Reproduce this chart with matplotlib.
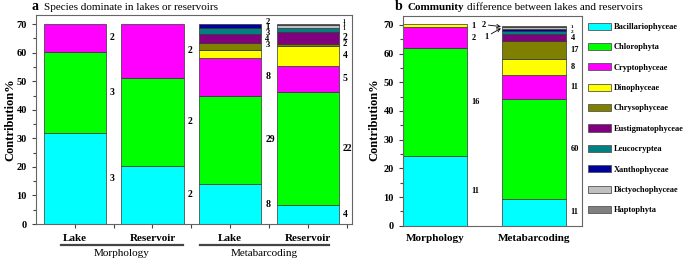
import numpy as np
import matplotlib.pyplot as plt
import matplotlib.transforms as mtransforms
from matplotlib.patches import Patch

plt.rcParams['font.family'] = ['Liberation Serif', 'DejaVu Serif']

# taxa in stacking order (bottom -> top)
taxa = ['Bacillariophyceae', 'Chlorophyta', 'Cryptophyceae', 'Dinophyceae',
        'Chrysophyceae', 'Eustigmatophyceae', 'Leucocryptea', 'Xanthophyceae',
        'Dictyochophyceae', 'Haptophyta']
colors = ['#00FFFF', '#00FF00', '#FF00FF', '#FFFF00', '#808000',
          '#800080', '#008080', '#00009C', '#C0C0C0', '#808080']

# panel a: Lake / Reservoir for morphology and metabarcoding (contribution %)
bars_a = ['Lake', 'Reservoir', 'Lake', 'Reservoir']
bac_a = [32.0, 20.4, 14.0, 6.5]
chl_a = [28.3, 30.8, 30.9, 39.8]
cry_a = [9.7, 18.8, 13.4, 9.2]
dino_a = [0, 0, 2.8, 6.8]
chrys_a = [0, 0, 2.4, 0.9]
eust_a = [0, 0, 2.9, 4.1]
leuco_a = [0, 0, 2.1, 1.4]
xan_a = [0, 0, 1.7, 0]
dict_a = [0, 0, 0, 0.9]
hapt_a = [0, 0, 0, 0.6]
vals_a = [bac_a, chl_a, cry_a, dino_a, chrys_a, eust_a, leuco_a, xan_a, dict_a, hapt_a]

# number of species per taxon (labels beside segments)
n_a = [[3, 2, 8, 4], [3, 2, 29, 22], [2, 2, 8, 5], [0, 0, 3, 4], [0, 0, 4, 2],
       [0, 0, 3, 2], [0, 0, 1, 1], [0, 0, 2, 0], [0, 0, 0, 1], [0, 0, 0, 1]]

# panel b: morphology vs metabarcoding
bars_b = ['Morphology', 'Metabarcoding']
vals_b = [[24.4, 9.3], [37.4, 34.8], [7.3, 8.6], [1.2, 5.3], [0, 6.4],
          [0, 2.3], [0, 1.1], [0, 0.7], [0, 0.6], [0, 0.6]]
n_b = [[11, 11], [16, 60], [2, 11], [1, 8], [0, 17],
       [0, 4], [0, 2], [0, 1], [0, 1], [0, 2]]

fig = plt.figure(figsize=(6.85, 2.6), dpi=100)
axa = fig.add_axes([36/685, 1-224/260, 316/685, 209/260])
axb = fig.add_axes([403/685, 1-225.7/260, 178.7/685, 210/260])

edge = '#333333'
for ax in (axa, axb):
    ax.set_ylim(0, 73.2)
    ax.set_yticks(np.arange(0, 71, 10))
    ax.set_yticks(np.arange(0, 71, 5), minor=True)
    ax.tick_params(axis='y', which='both', direction='out', colors='#444444', labelcolor='black',
                   labelsize=7.5, length=3, width=0.8)
    ax.tick_params(axis='y', which='minor', length=2)
    for lab in ax.get_yticklabels():
        lab.set_fontweight('bold')
    for s in ax.spines.values():
        s.set_color('#666666')
        s.set_linewidth(0.8)

# ---- panel a ----
xa = np.arange(len(bars_a))
wa = 0.8
bottom = np.zeros(len(bars_a))
for v, c in zip(vals_a, colors):
    v = np.array(v, dtype=float)
    m = v > 0
    axa.bar(xa[m], v[m], wa, bottom=bottom[m], color=c, edgecolor=edge, linewidth=0.5)
    bottom += v
tot_a = bottom

cum = np.cumsum(np.array(vals_a, dtype=float), axis=0)
for i in range(len(bars_a)):
    prev = None
    for k in range(len(taxa) - 1, -1, -1):
        if n_a[k][i] == 0:
            continue
        h = vals_a[k][i]
        tiny = h < 1.5 and n_a[k][i] == 1
        small = h < 3.5
        g = 1.2 if tiny else 2.05
        center = cum[k][i] - h / 2
        limit = tot_a[i] + 0.7 if prev is None else prev - g
        y = limit if small else min(center, limit)
        prev = y
        fs = 4 if tiny else (6.2 if small else 7)
        axa.annotate(str(n_a[k][i]), (xa[i] + wa / 2, y), xytext=(3, 0), textcoords='offset points',
                     ha='left', va='center', fontsize=fs, fontweight='bold')

axa.set_xlim(-0.5, 3.57)
axa.set_xticks(xa, bars_a)
axa.set_xticks([0.5, 1.5, 2.5, 3.5], minor=True)
axa.tick_params(axis='x', which='both', direction='out', colors='#444444', labelcolor='black',
                labelsize=8, length=3, width=0.8, pad=4)
for lab in axa.get_xticklabels():
    lab.set_fontweight('bold')

trans = mtransforms.blended_transform_factory(axa.transData, axa.transAxes)
for x0, x1, name in [(-0.18, 1.39, 'Morphology'), (1.61, 3.27, 'Metabarcoding')]:
    axa.plot([x0, x1], [-0.10, -0.10], color='#444444', lw=1.6, transform=trans, clip_on=False)
    axa.text((x0 + x1) / 2, -0.14, name, transform=trans, ha='center', va='center', fontsize=8)

# ---- panel b ----
xb = np.arange(len(bars_b))
wb = 0.65
bottom = np.zeros(len(bars_b))
for v, c in zip(vals_b, colors):
    v = np.array(v, dtype=float)
    m = v > 0
    axb.bar(xb[m], v[m], wb, bottom=bottom[m], color=c, edgecolor=edge, linewidth=0.5)
    bottom += v

cumb = np.cumsum(np.array(vals_b, dtype=float), axis=0)
for i in range(len(bars_b)):
    for k in range(6):
        if n_b[k][i] == 0:
            continue
        y = cumb[k][i] - vals_b[k][i] / 2
        axb.annotate(str(n_b[k][i]), (xb[i] + wb / 2, y), xytext=(3, 0), textcoords='offset points',
                     ha='left', va='center', fontsize=6, fontweight='bold')

# thin top layers of the metabarcoding bar
yl = cumb[5][1] - vals_b[5][1] / 2
axb.annotate(str(n_b[6][1]), (xb[1] + wb / 2, yl + 2.0), xytext=(3, 0), textcoords='offset points',
             ha='left', va='center', fontsize=3.8, fontweight='bold')
axb.annotate(str(n_b[7][1]), (xb[1] + wb / 2, yl + 3.6), xytext=(3, 0), textcoords='offset points',
             ha='left', va='center', fontsize=3.8, fontweight='bold')
left = xb[1] - wb / 2
axb.annotate(str(n_b[9][1]), (left - 0.01, cumb[9][1] - vals_b[9][1] / 2), xytext=(-11, 1.5),
             textcoords='offset points', ha='right', va='center', fontsize=6, fontweight='bold',
             arrowprops=dict(arrowstyle='->', lw=0.6, color='black', shrinkA=0, shrinkB=0))
axb.annotate(str(n_b[8][1]), (left - 0.01, cumb[8][1] - vals_b[8][1] / 2), xytext=(-9, -6),
             textcoords='offset points', ha='right', va='center', fontsize=6, fontweight='bold',
             arrowprops=dict(arrowstyle='->', lw=0.6, color='black', shrinkA=0, shrinkB=0))

axb.set_xlim(-0.323, 1.48)
axb.set_xticks(xb, bars_b)
axb.tick_params(axis='x', length=0, labelsize=8, pad=6)
for lab in axb.get_xticklabels():
    lab.set_fontweight('bold')

# y labels
fig.text(10/685, 0.54, 'Contribution%', rotation=90, ha='center', va='center',
         fontsize=9, fontweight='bold')
fig.text(374/685, 0.54, 'Contribution%', rotation=90, ha='center', va='center',
         fontsize=9, fontweight='bold')

# titles
fig.text(31/685, 1 - 7/260, 'a', fontsize=10, fontweight='bold', ha='left', va='center')
fig.text(44/685, 1 - 7/260, 'Species dominate in lakes or reservoirs', fontsize=8, ha='left', va='center')
fig.text(395/685, 1 - 7/260, 'b', fontsize=10, fontweight='bold', ha='left', va='center')
fig.text(407/685, 1 - 7/260, 'Community', fontsize=8, fontweight='bold', ha='left', va='center')
fig.text(467/685, 1 - 7/260, 'difference between lakes and reservoirs', fontsize=8, ha='left', va='center')

# legend
handles = [Patch(facecolor=c, edgecolor='#555555', linewidth=0.6, label=t) for t, c in zip(taxa, colors)]
fig.legend(handles=handles, loc='upper left', bbox_to_anchor=(588/685, 1 - 22.5/260), frameon=False,
           prop=dict(size=6, weight='bold'), handlelength=2.7, handleheight=0.95,
           labelspacing=1.43, handletextpad=0.4, borderpad=0, borderaxespad=0)

fig.savefig('out.png', dpi=100)
